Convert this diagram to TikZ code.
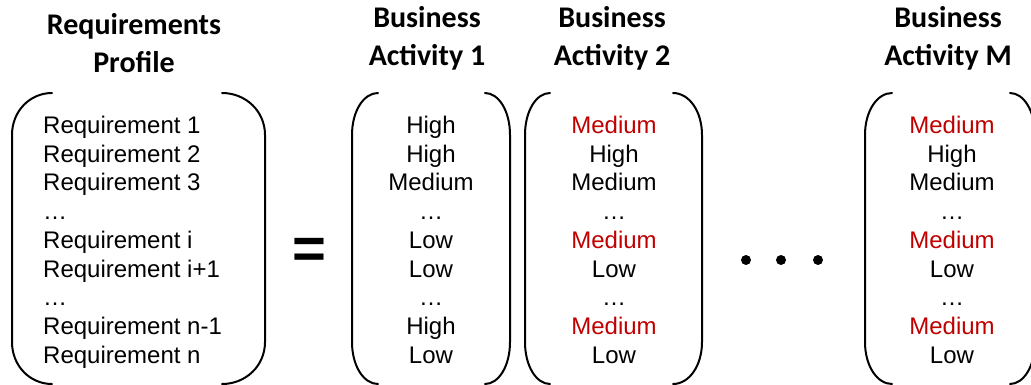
\documentclass[tikz,border=0pt]{standalone}
\usepackage{fontspec}
\setmainfont{Liberation Sans}
\newfontfamily\hdfont{Carlito}
\definecolor{medred}{RGB}{192,0,0}
\newcommand\myLB[2]{\draw[brk] (#2,93) .. controls ({#1+0.45*(#2-#1)},93) and (#1,111) .. (#1,135) -- (#1,342) .. controls (#1,366) and ({#1+0.45*(#2-#1)},384) .. (#2,384);}
\newcommand\myRB[2]{\draw[brk] (#2,93) .. controls ({#1+0.45*(#2-#1)},93) and (#1,111) .. (#1,135) -- (#1,342) .. controls (#1,366) and ({#1+0.45*(#2-#1)},384) .. (#2,384);}
\begin{document}
\begin{tikzpicture}[x=1pt,y=-1pt,
  hdr/.style={font=\hdfont\bfseries\fontsize{30}{36}\selectfont, anchor=base, inner sep=0pt},
  cell/.style={font=\fontsize{24}{28}\selectfont, anchor=base, inner sep=0pt},
  req/.style={cell, anchor=base west},
  brk/.style={line width=2pt, line cap=round},
  dot/.style={circle, fill=black, minimum size=10pt, inner sep=0pt}]
\useasboundingbox (0,0) rectangle (1031,385);
\clip (0,0) rectangle (1031,385);
% headers
\node[hdr] (h0a) at (134,35) {Requirements};
\node[hdr] (h0b) at (134,73) {Profile};
\node[hdr] (h1a) at (427,28) {Business};
\node[hdr] (h1b) at (427,66) {Activity 1};
\node[hdr] (h2a) at (612,28) {Business};
\node[hdr] (h2b) at (612,66) {Activity 2};
\node[hdr] (h3a) at (948,28) {Business};
\node[hdr] (h3b) at (948,66) {Activity M};
% brackets
\myLB{12}{52}
\myRB{265}{222}
\myLB{352}{378}
\myRB{510}{485}
\myLB{525}{550}
\myRB{702}{673}
\myLB{865}{892}
\myRB{1035}{1010}
% requirement rows
\foreach \t [count=\i from 0] in {Requirement 1, Requirement 2, Requirement 3, \dots, Requirement i, Requirement i+1, \dots, Requirement n-1, Requirement n}
  \node[req] (r\i) at (43,{133.3+28.75*\i}) {\t};
\foreach \t [count=\i from 0] in {High, High, Medium, \dots, Low, Low, \dots, High, Low}
  \node[cell] (a\i) at (431,{133.3+28.75*\i}) {\t};
\foreach \t [count=\i from 0] in {{\textcolor{medred}{Medium}}, High, Medium, \dots, {\textcolor{medred}{Medium}}, Low, \dots, {\textcolor{medred}{Medium}}, Low}
  \node[cell] (b\i) at (614,{133.3+28.75*\i}) {\t};
\foreach \t [count=\i from 0] in {{\textcolor{medred}{Medium}}, High, Medium, \dots, {\textcolor{medred}{Medium}}, Low, \dots, {\textcolor{medred}{Medium}}, Low}
  \node[cell] (m\i) at (952,{133.3+28.75*\i}) {\t};
% equals and dots
\node[inner sep=0pt, font=\bfseries\fontsize{58}{58}\selectfont] (eq) at (309,253) {=};
\node[dot] (d1) at (746,260) {};
\node[dot] (d2) at (781,260) {};
\node[dot] (d3) at (818,260) {};
\end{tikzpicture}
\end{document}
